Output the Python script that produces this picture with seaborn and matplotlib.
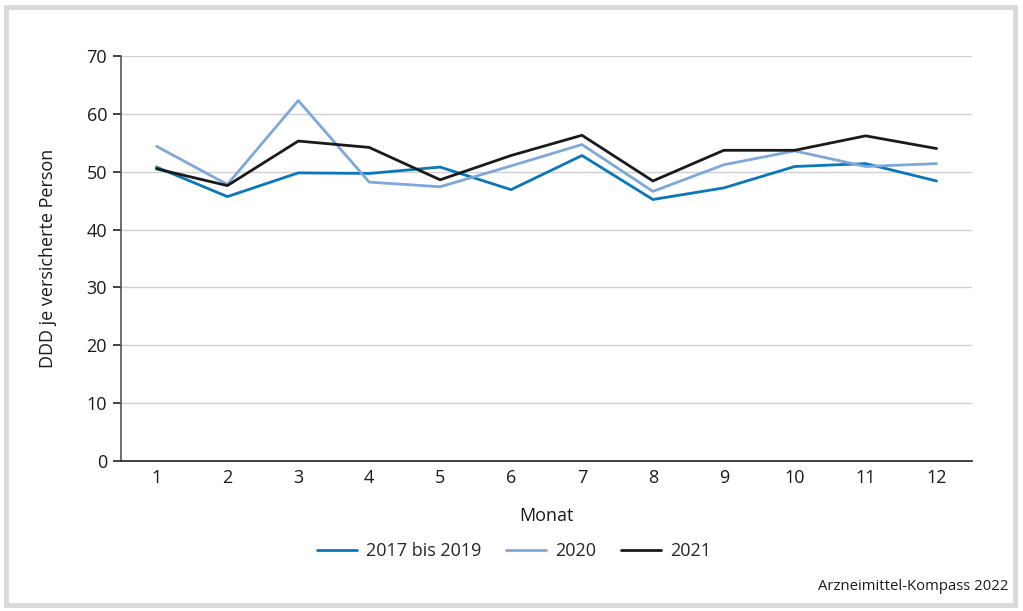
import numpy as np
import pandas as pd
import matplotlib
matplotlib.use("Agg")
import matplotlib.pyplot as plt
import seaborn as sns
from matplotlib.patches import Rectangle

months = list(range(1, 13))
s_2017_2019 = [50.8, 45.7, 49.8, 49.7, 50.8, 46.9, 52.8, 45.2, 47.2, 50.9, 51.4, 48.4]
s_2020 = [54.4, 47.8, 62.3, 48.2, 47.4, 51.0, 54.7, 46.6, 51.2, 53.6, 50.9, 51.4]
s_2021 = [50.5, 47.6, 55.3, 54.2, 48.6, 52.8, 56.3, 48.4, 53.7, 53.7, 56.2, 54.0]
series_names = ["2017 bis 2019", "2020", "2021"]
colors = ["#0a77bb", "#7ea7da", "#1a1a1a"]

df = pd.DataFrame({
    "Monat": months * 3,
    "Wert": s_2017_2019 + s_2020 + s_2021,
    "Serie": [series_names[0]] * 12 + [series_names[1]] * 12 + [series_names[2]] * 12,
})

sns.set_theme(style="white")
plt.rcParams["font.family"] = ["Open Sans", "DejaVu Sans"]

fig = plt.figure(figsize=(10.23, 6.11), dpi=100)
ax = fig.add_axes([121 / 1023, 1 - 461 / 611, (972 - 121) / 1023, (461 - 56) / 611])

sns.lineplot(data=df, x="Monat", y="Wert", hue="Serie", palette=colors,
             hue_order=series_names, linewidth=2.0, ax=ax, legend=True)

ax.set_xlim(0.5, 12.5)
ax.set_ylim(0, 70)
ax.set_yticks(np.arange(0, 71, 10))
ax.set_xticks(months)
ax.set_xticklabels([str(m) for m in months])
ax.yaxis.grid(True, color="#cfcfcf", linewidth=1.0)
ax.xaxis.grid(False)
ax.set_axisbelow(True)
for side in ["top", "right"]:
    ax.spines[side].set_visible(False)
ax.spines["left"].set_color("#555555")
ax.spines["left"].set_linewidth(1.2)
ax.spines["bottom"].set_color("#222222")
ax.spines["bottom"].set_linewidth(1.2)
ax.tick_params(axis="y", which="major", left=True, length=6, width=1.2, color="#222222",
               labelsize=13, labelcolor="#1a1a1a", pad=4)
ax.tick_params(axis="x", which="major", bottom=False, labelsize=13, labelcolor="#1a1a1a", pad=0)
ax.set_xlabel("Monat", fontsize=13, color="#1a1a1a", labelpad=14)
ax.set_ylabel("DDD je versicherte Person", fontsize=13, color="#1a1a1a", labelpad=21)

handles, labels = ax.get_legend_handles_labels()
ax.legend(handles, labels, loc="center", bbox_to_anchor=(514 / 1023, 1 - 551 / 611),
          bbox_transform=fig.transFigure, ncol=3, frameon=False, fontsize=13,
          handlelength=2.2, columnspacing=1.4, handletextpad=0.5)

fig.text(1008 / 1023, 1 - 586 / 611, "Arzneimittel-Kompass 2022", ha="right", va="center",
         fontsize=10.7, color="#1a1a1a")

fig.patches.append(Rectangle((5.5 / 1023, 6.5 / 611), (1015 - 5.5) / 1023, (604 - 6.5) / 611,
                             transform=fig.transFigure, fill=False, edgecolor="#d9d9d9",
                             linewidth=3.5))

fig.savefig("out.png", dpi=100, facecolor="white")
